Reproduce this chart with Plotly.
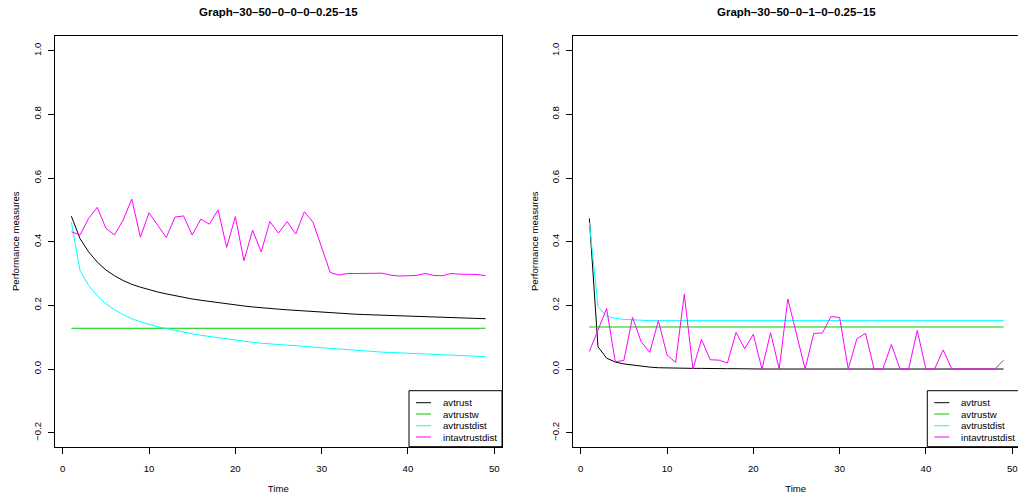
import plotly.graph_objects as go

W, H = 1018, 496

# ---------------- data ----------------
time = list(range(1, 50))
series_names = ["avtrust", "avtrustw", "avtrustdist", "intavtrustdist"]
series_colors = ["#000000", "#00CD00", "#00FFFF", "#FF00FF"]
titles = ["Graph–30–50–0–0–0–0.25–15", "Graph–30–50–0–1–0–0.25–15"]

# left panel
left_avtrust = [0.480, 0.410, 0.368, 0.336, 0.311, 0.293, 0.278, 0.266, 0.257, 0.249,
                0.242, 0.236, 0.230, 0.225, 0.220, 0.216, 0.212, 0.208, 0.204, 0.201,
                0.198, 0.195, 0.192, 0.190, 0.188, 0.186, 0.184, 0.182, 0.180, 0.178,
                0.176, 0.175, 0.174, 0.172, 0.171, 0.170, 0.169, 0.168, 0.167, 0.166,
                0.165, 0.164, 0.163, 0.162, 0.161, 0.160, 0.160, 0.159, 0.158]
left_avtrustw = [0.128] * 49
left_avtrustdist = [0.462, 0.310, 0.262, 0.230, 0.205, 0.186, 0.171, 0.158, 0.148, 0.140,
                    0.133, 0.127, 0.121, 0.116, 0.111, 0.106, 0.102, 0.098, 0.094, 0.091,
                    0.087, 0.084, 0.081, 0.079, 0.076, 0.074, 0.072, 0.069, 0.067, 0.065,
                    0.063, 0.061, 0.060, 0.058, 0.056, 0.055, 0.053, 0.052, 0.051, 0.049,
                    0.048, 0.047, 0.046, 0.045, 0.043, 0.042, 0.041, 0.040, 0.039]
left_intavtrustdist = [0.431, 0.421, 0.473, 0.508, 0.442, 0.421, 0.468, 0.534, 0.414, 0.491,
                       0.452, 0.413, 0.477, 0.481, 0.421, 0.471, 0.455, 0.500, 0.382, 0.479,
                       0.340, 0.436, 0.368, 0.463, 0.427, 0.463, 0.424, 0.494, 0.461, 0.382,
                       0.303, 0.295, 0.300, 0.300, 0.300, 0.299, 0.301, 0.295, 0.292, 0.293,
                       0.294, 0.300, 0.294, 0.293, 0.300, 0.298, 0.298, 0.297, 0.293]

# right panel
right_avtrust = [0.473, 0.070, 0.034, 0.022, 0.016, 0.012, 0.009, 0.006, 0.004, 0.003,
                 0.003, 0.002, 0.002, 0.002, 0.001, 0.001, 0.001, 0.001, 0.000, 0.000,
                 0.000, 0.000, 0.000, 0.000, 0.000, 0.000, 0.000, 0.000, 0.000, 0.000,
                 0.000, 0.000, 0.000, 0.000, 0.000, 0.000, 0.000, 0.000, 0.000, 0.000,
                 0.000, 0.000, 0.000, 0.000, 0.000, 0.000, 0.000, 0.000, 0.000]
right_avtrustw = [0.132] * 49
right_avtrustdist = [0.460, 0.196, 0.166, 0.159, 0.156, 0.154, 0.153, 0.152, 0.152, 0.152,
                     0.152, 0.152, 0.152, 0.152, 0.152, 0.152, 0.152, 0.152, 0.152, 0.152,
                     0.152, 0.152, 0.152, 0.152, 0.152, 0.152, 0.152, 0.152, 0.152, 0.152,
                     0.152, 0.152, 0.152, 0.152, 0.152, 0.152, 0.152, 0.152, 0.152, 0.152,
                     0.152, 0.152, 0.152, 0.152, 0.152, 0.152, 0.152, 0.152, 0.152]
right_intavtrustdist = [0.055, 0.122, 0.190, 0.023, 0.027, 0.162, 0.086, 0.052, 0.152, 0.044,
                        0.021, 0.235, 0.000, 0.093, 0.029, 0.028, 0.019, 0.115, 0.064, 0.109,
                        0.000, 0.114, 0.000, 0.220, 0.110, 0.000, 0.112, 0.113, 0.165, 0.162,
                        0.000, 0.095, 0.112, 0.000, 0.000, 0.077, 0.000, 0.000, 0.121, 0.000,
                        0.000, 0.060, 0.000, 0.000, 0.000, 0.000, 0.000, 0.000, 0.028]

x_ticks = [0, 10, 20, 30, 40, 50]
y_ticks = [-0.2, 0.0, 0.2, 0.4, 0.6, 0.8, 1.0]
x_title = "Time"
y_title = "Performance measures"

panels = [
    [left_avtrust, left_avtrustw, left_avtrustdist, left_intavtrustdist],
    [right_avtrust, right_avtrustw, right_avtrustdist, right_intavtrustdist],
]

# ---------------- layout geometry (pixels) ----------------
FONT = "Liberation Sans, Arial, Helvetica, sans-serif"
FS = 9.6
px = lambda x: x / W
py = lambda y: 1 - y / H

plot_top, plot_bot = 35.7, 446.7
panel_px = [(54.7, 502.0), (573.3, 1018.0)]
x_ranges = [[-0.93, 50.9], [-0.86, 50.67]]
y_range = [-0.244, 1.047]

fig = go.Figure()
for p, data in enumerate(panels):
    xa = "x" if p == 0 else "x2"
    ya = "y" if p == 0 else "y2"
    for name, color, vals in zip(series_names, series_colors, data):
        fig.add_trace(go.Scatter(x=time, y=vals, mode="lines", name=name,
                                 line=dict(color=color, width=1),
                                 xaxis=xa, yaxis=ya, showlegend=False,
                                 hoverinfo="skip"))

axis_common = dict(showgrid=False, zeroline=False, showline=True, linecolor="black",
                   linewidth=1, ticks="outside", ticklen=6, tickwidth=1,
                   tickcolor="black", tickfont=dict(family=FONT, size=FS, color="black"))

layout = dict(width=W, height=H, margin=dict(l=0, r=0, t=0, b=0),
              paper_bgcolor="white", plot_bgcolor="white", showlegend=False,
              font=dict(family=FONT, size=FS, color="black"))

for p in range(2):
    sfx = "" if p == 0 else "2"
    layout["xaxis" + sfx] = dict(
        axis_common, domain=[px(panel_px[p][0]), px(panel_px[p][1])],
        range=x_ranges[p], tickvals=x_ticks, ticklabelstandoff=7,
        mirror=True, anchor="y" + sfx,
        title=dict(text=x_title, font=dict(family=FONT, size=FS), standoff=12))
    layout["yaxis" + sfx] = dict(
        axis_common, domain=[py(plot_bot), py(plot_top)], range=y_range,
        tickvals=y_ticks, tickformat=".1f", tickangle=-90, ticklabelstandoff=3,
        mirror=(p == 0), anchor="x" + sfx,
        title=dict(text=y_title, font=dict(family=FONT, size=FS), standoff=10))

fig.update_layout(**layout)

# titles
for p in range(2):
    cx = (panel_px[p][0] + (502.0 if p == 0 else 1020.0)) / 2
    fig.add_annotation(x=px(cx), y=py(12), xref="paper", yref="paper",
                       text="<b>%s</b>" % titles[p], showarrow=False,
                       font=dict(family=FONT, size=11.5, color="black"),
                       xanchor="center", yanchor="middle")

# legends (R style box in bottom-right corner)
leg_left = [409.0, 927.3]
leg_w = 93.0
leg_top = 390.7
row_y = [402.7, 414.0, 425.7, 437.0]
for p in range(2):
    L = leg_left[p]
    fig.add_shape(type="rect", xref="paper", yref="paper",
                  x0=px(L), x1=px(min(L + leg_w, W + 5)), y0=py(plot_bot), y1=py(leg_top),
                  line=dict(color="black", width=1), fillcolor="white", layer="above")
    for name, color, ry in zip(series_names, series_colors, row_y):
        fig.add_shape(type="line", xref="paper", yref="paper",
                      x0=px(L + 7), x1=px(L + 22), y0=py(ry), y1=py(ry),
                      line=dict(color=color, width=1), layer="above")
        fig.add_annotation(x=px(L + 32), y=py(ry), xref="paper", yref="paper",
                           text=name, showarrow=False, xanchor="left", yanchor="middle",
                           font=dict(family=FONT, size=FS, color="black"))

fig.write_html("out.html", config={"displayModeBar": False},
               post_script="document.body.style.margin='0px';")
